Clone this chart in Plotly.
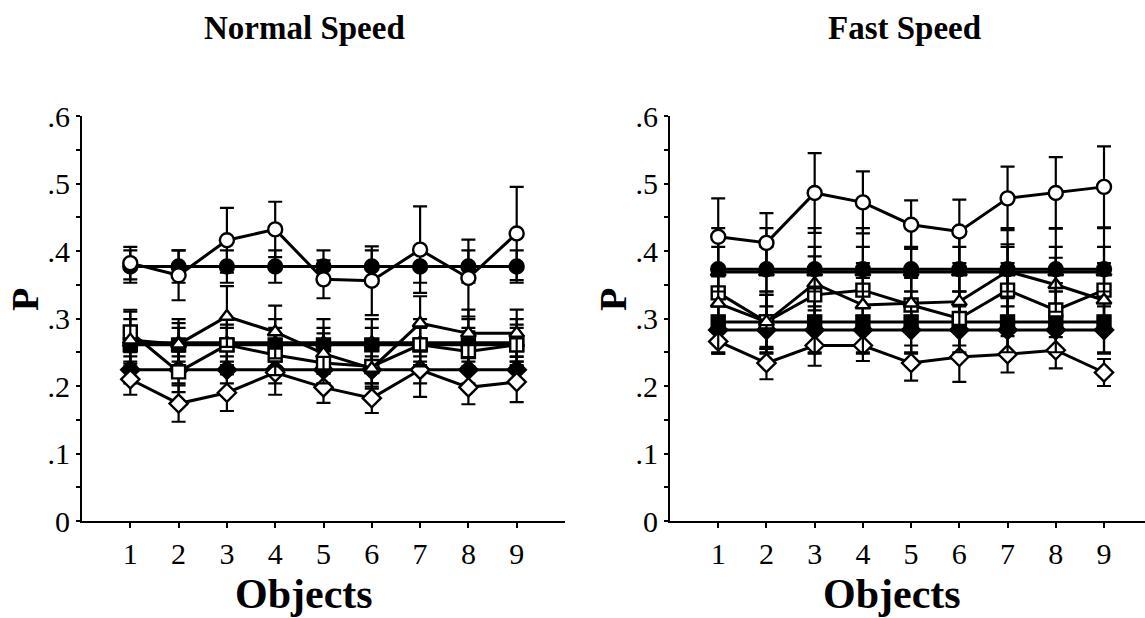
import plotly.graph_objects as go

objects = [1, 2, 3, 4, 5, 6, 7, 8, 9]
y_tick_vals = [0, 0.1, 0.2, 0.3, 0.4, 0.5, 0.6]
y_tick_text = ["0", ".1", ".2", ".3", ".4", ".5", ".6"]

# ---- Normal speed ----
n_open_circle = [0.382, 0.364, 0.416, 0.432, 0.358, 0.356, 0.402, 0.360, 0.426]
n_open_circle_err = [0.024, 0.037, 0.048, 0.041, 0.028, 0.051, 0.064, 0.057, 0.069]
n_fill_circle = [0.377, 0.377, 0.377, 0.377, 0.377, 0.377, 0.377, 0.377, 0.377]
n_fill_circle_err = [0.024, 0.024, 0.024, 0.024, 0.024, 0.024, 0.024, 0.024, 0.024]
n_open_triangle = [0.268, 0.262, 0.303, 0.280, 0.248, 0.226, 0.293, 0.278, 0.278]
n_open_triangle_err = [0.045, 0.031, 0.045, 0.039, 0.030, 0.030, 0.040, 0.035, 0.035]
n_fill_triangle = [0.264, 0.264, 0.264, 0.264, 0.264, 0.264, 0.264, 0.264, 0.264]
n_fill_triangle_err = [0.035, 0.035, 0.035, 0.035, 0.035, 0.035, 0.035, 0.035, 0.035]
n_open_square = [0.280, 0.221, 0.261, 0.246, 0.234, 0.229, 0.261, 0.251, 0.261]
n_open_square_err = [0.030, 0.030, 0.030, 0.030, 0.030, 0.030, 0.030, 0.030, 0.030]
n_fill_square = [0.261, 0.261, 0.261, 0.261, 0.261, 0.261, 0.261, 0.261, 0.261]
n_fill_square_err = [0.025, 0.025, 0.025, 0.025, 0.025, 0.025, 0.025, 0.025, 0.025]
n_open_diamond = [0.210, 0.174, 0.190, 0.220, 0.198, 0.182, 0.224, 0.198, 0.206]
n_open_diamond_err = [0.023, 0.027, 0.027, 0.033, 0.023, 0.022, 0.040, 0.025, 0.030]
n_fill_diamond = [0.224, 0.224, 0.224, 0.224, 0.224, 0.224, 0.224, 0.224, 0.224]
n_fill_diamond_err = [0.020, 0.020, 0.020, 0.020, 0.020, 0.020, 0.020, 0.020, 0.020]

# ---- Fast speed ----
f_open_circle = [0.421, 0.412, 0.486, 0.472, 0.439, 0.429, 0.478, 0.486, 0.495]
f_open_circle_err = [0.057, 0.044, 0.059, 0.046, 0.036, 0.047, 0.047, 0.053, 0.060]
f_fill_circle = [0.373, 0.373, 0.373, 0.373, 0.373, 0.373, 0.373, 0.373, 0.373]
f_fill_circle_err = [0.033, 0.033, 0.033, 0.033, 0.033, 0.033, 0.033, 0.033, 0.033]
f_open_triangle = [0.3225, 0.295, 0.352, 0.320, 0.3225, 0.325, 0.370, 0.350, 0.327]
f_open_triangle_err = [0.040, 0.040, 0.040, 0.040, 0.040, 0.040, 0.040, 0.040, 0.040]
f_fill_triangle = [0.369, 0.369, 0.369, 0.369, 0.369, 0.369, 0.369, 0.369, 0.369]
f_fill_triangle_err = [0.065, 0.065, 0.065, 0.065, 0.065, 0.065, 0.065, 0.065, 0.065]
f_open_square = [0.338, 0.295, 0.335, 0.342, 0.320, 0.300, 0.342, 0.3125, 0.342]
f_open_square_err = [0.040, 0.040, 0.040, 0.040, 0.040, 0.040, 0.040, 0.040, 0.040]
f_fill_square = [0.295, 0.295, 0.295, 0.295, 0.295, 0.295, 0.295, 0.295, 0.295]
f_fill_square_err = [0.045, 0.045, 0.045, 0.045, 0.045, 0.045, 0.045, 0.045, 0.045]
f_open_diamond = [0.266, 0.234, 0.260, 0.260, 0.234, 0.243, 0.247, 0.253, 0.220]
f_open_diamond_err = [0.018, 0.024, 0.030, 0.023, 0.026, 0.037, 0.027, 0.027, 0.020]
f_fill_diamond = [0.283, 0.283, 0.283, 0.283, 0.283, 0.283, 0.283, 0.283, 0.283]
f_fill_diamond_err = [0.035, 0.035, 0.035, 0.035, 0.035, 0.035, 0.035, 0.035, 0.035]

FONT = "Liberation Serif"
W, H = 1145, 618

fig = go.Figure()


def add(y, err, symbol, filled, xa, ya, size=14):
    fig.add_trace(go.Scatter(
        x=objects, y=y, mode="lines+markers",
        xaxis=xa, yaxis=ya,
        line=dict(color="black", width=3),
        marker=dict(symbol=symbol, size=size,
                    color="black" if filled else "white",
                    line=dict(color="black", width=2.4)),
        error_y=dict(type="data", array=err, visible=True,
                     color="black", thickness=2.2, width=7),
        cliponaxis=False, showlegend=False,
    ))


for xa, ya, d in [
    ("x", "y", dict(oc=(n_open_circle, n_open_circle_err), fc=(n_fill_circle, n_fill_circle_err),
                    ot=(n_open_triangle, n_open_triangle_err), ft=(n_fill_triangle, n_fill_triangle_err),
                    os=(n_open_square, n_open_square_err), fs=(n_fill_square, n_fill_square_err),
                    od=(n_open_diamond, n_open_diamond_err), fd=(n_fill_diamond, n_fill_diamond_err))),
    ("x2", "y2", dict(oc=(f_open_circle, f_open_circle_err), fc=(f_fill_circle, f_fill_circle_err),
                      ot=(f_open_triangle, f_open_triangle_err), ft=(f_fill_triangle, f_fill_triangle_err),
                      os=(f_open_square, f_open_square_err), fs=(f_fill_square, f_fill_square_err),
                      od=(f_open_diamond, f_open_diamond_err), fd=(f_fill_diamond, f_fill_diamond_err))),
]:
    add(*d["fd"], "diamond", True, xa, ya, 14)
    add(*d["od"], "diamond", False, xa, ya, 14)
    add(*d["fs"], "square", True, xa, ya, 13)
    add(*d["ft"], "triangle-up", True, xa, ya, 13)
    add(*d["os"], "square", False, xa, ya, 13)
    add(*d["ot"], "triangle-up", False, xa, ya, 13)
    add(*d["fc"], "circle", True, xa, ya, 14)
    add(*d["oc"], "circle", False, xa, ya, 14)

ybot = (H - 521) / H
ytop = (H - 116) / H

xaxis_common = dict(
    tickvals=objects, ticktext=[str(v) for v in objects],
    ticks="outside", ticklen=5, tickwidth=1.5, tickcolor="black",
    showline=True, linecolor="black", linewidth=2,
    showgrid=False, zeroline=False, automargin=False,
    tickfont=dict(family=FONT, size=30, color="black"),
    ticklabelstandoff=0,
)
yaxis_common = dict(
    range=[0, 0.6], tickvals=y_tick_vals, ticktext=y_tick_text,
    ticks="outside", ticklen=4, tickwidth=1.5, tickcolor="black",
    minor=dict(tickvals=[0.05, 0.15, 0.25, 0.35, 0.45, 0.55], ticks="outside",
               ticklen=4, tickwidth=1.5, tickcolor="black"),
    showline=True, linecolor="black", linewidth=2,
    showgrid=False, zeroline=False, automargin=False,
    tickfont=dict(family=FONT, size=30, color="black"),
    ticklabelstandoff=0,
    domain=[ybot, ytop],
)

fig.update_layout(
    width=W, height=H,
    margin=dict(l=0, r=0, t=0, b=0, pad=0, autoexpand=False),
    paper_bgcolor="white", plot_bgcolor="white",
    xaxis=dict(xaxis_common, range=[0, 10], domain=[82 / W, 565 / W], anchor="y"),
    yaxis=dict(yaxis_common, anchor="x"),
    xaxis2=dict(xaxis_common, range=[0, 9.85], domain=[670 / W, 1.0], anchor="y2"),
    yaxis2=dict(yaxis_common, anchor="x2"),
)

annots = [
    dict(text="<b>Normal Speed</b>", x=304, y=28, size=33),
    dict(text="<b>Fast Speed</b>", x=904, y=28, size=33),
    dict(text="<b>Objects</b>", x=304, y=594, size=42),
    dict(text="<b>Objects</b>", x=892, y=594, size=42),
]
for a in annots:
    fig.add_annotation(text=a["text"], x=a["x"] / W, y=1 - a["y"] / H,
                       xref="paper", yref="paper", showarrow=False,
                       xanchor="center", yanchor="middle",
                       font=dict(family=FONT, size=a["size"], color="black"))
for px in (25, 613):
    fig.add_annotation(text="<b>P</b>", x=px / W, y=1 - 300 / H,
                       xref="paper", yref="paper", showarrow=False,
                       xanchor="center", yanchor="middle", textangle=-90,
                       font=dict(family=FONT, size=38, color="black"))

fig.write_html("out.html")
